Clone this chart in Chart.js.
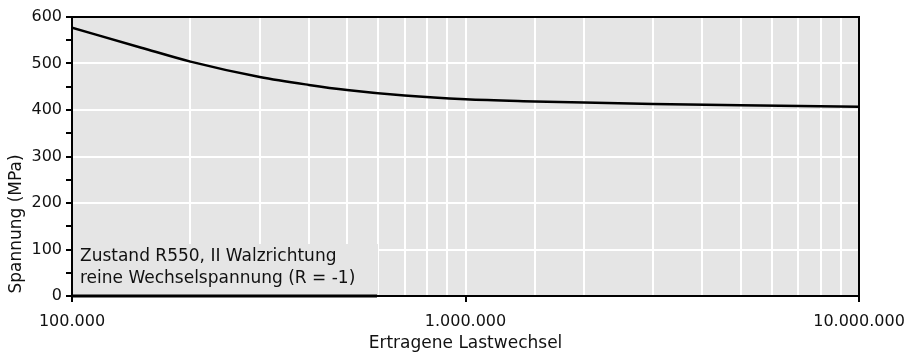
<!DOCTYPE html>
<html>
<head>
<meta charset="utf-8">
<script src="https://cdn.jsdelivr.net/npm/chart.js@4/dist/chart.umd.min.js"></script>
<style>
  html, body { margin: 0; padding: 0; background: #fff; }
  canvas { display: block; }
</style>
</head>
<body>
<canvas id="sn" width="909" height="356"></canvas>
<script>
// Woehler curve, values
const cycles = [100000, 150000, 200000, 300000, 400000, 500000, 700000, 1000000, 1500000, 2000000, 3000000, 5000000, 10000000];
const stress = [577, 534, 504, 471, 454, 443, 431, 423, 418.5, 416, 413, 410, 407];

const xTitle = 'Ertragene Lastwechsel';
const yTitle = 'Spannung (MPa)';
const noteLines = ['Zustand R550, II Walzrichtung', 'reine Wechselspannung (R = -1)'];

const tickFont = { family: 'DejaVu Sans', size: 16 };
const textFont = '17px "DejaVu Sans"';
const plotGray = '#e5e5e5';

function fmt(v) {
    return String(Math.round(v)).replace(/\B(?=(\d{3})+(?!\d))/g, '.');
}
function isDecade(v) {
    const l = Math.log10(v);
    return Math.abs(l - Math.round(l)) < 1e-9;
}

const decor = {
    id: 'decor',
    beforeDraw(chart) {
        const { ctx, chartArea: a } = chart;
        ctx.save();
        ctx.fillStyle = plotGray;
        ctx.fillRect(a.left, a.top, a.right - a.left, a.bottom - a.top);
        ctx.restore();
    },
    beforeDatasetsDraw(chart) {
        // the note box hides the grid behind it
        const { ctx, chartArea: a } = chart;
        ctx.save();
        ctx.fillStyle = plotGray;
        ctx.fillRect(a.left + 1, 244, 377 - a.left, a.bottom - 244 - 1);
        ctx.restore();
    },
    afterDraw(chart) {
        const { ctx, chartArea: a } = chart;
        ctx.save();
        ctx.strokeStyle = '#000';
        ctx.lineWidth = 2;
        ctx.beginPath();
        ctx.moveTo(a.left - 1, a.top);
        ctx.lineTo(a.right, a.top);
        ctx.lineTo(a.right, a.bottom);
        ctx.stroke();
        ctx.lineWidth = 3;
        ctx.beginPath();
        ctx.moveTo(a.left, a.bottom);
        ctx.lineTo(377, a.bottom);
        ctx.stroke();

        ctx.fillStyle = '#111';
        ctx.font = textFont;
        ctx.textAlign = 'left';
        ctx.textBaseline = 'alphabetic';
        ctx.fillText(noteLines[0], 80, 261);
        ctx.fillText(noteLines[1], 80, 283);

        ctx.textAlign = 'center';
        ctx.textBaseline = 'middle';
        ctx.fillText(xTitle, (a.left + a.right) / 2, 344);

        ctx.translate(17, 224);
        ctx.rotate(-Math.PI / 2);
        ctx.fillText(yTitle, 0, 0);
        ctx.restore();
    }
};

const ctx = document.getElementById('sn').getContext('2d');
const snChart = new Chart(ctx, {
    type: 'line',
    data: {
        datasets: [{
            data: cycles.map((n, i) => ({ x: n, y: stress[i] })),
            borderColor: '#000',
            borderWidth: 2.5,
            pointRadius: 0,
            fill: false,
            cubicInterpolationMode: 'monotone'
        }]
    },
    options: {
        responsive: false,
        animation: false,
        layout: { padding: { top: 17, right: 50, left: 0, bottom: 0 } },
        plugins: {
            legend: { display: false },
            tooltip: { enabled: false }
        },
        scales: {
            x: {
                type: 'logarithmic',
                min: 100000,
                max: 10000000,
                afterFit: (scale) => {
                    scale.height = 60;
                    scale.paddingLeft = 0;
                    scale.paddingRight = 0;
                },
                grid: {
                    color: (c) => c.tick && (!isDecade(c.tick.value) || c.tick.value === 1000000) ? '#fff' : 'rgba(0,0,0,0)',
                    lineWidth: 2,
                    tickColor: (c) => c.tick && isDecade(c.tick.value) ? '#000' : 'rgba(0,0,0,0)',
                    tickLength: 6,
                    tickWidth: 2
                },
                border: { display: true, color: '#000', width: 2 },
                ticks: {
                    autoSkip: false,
                    maxRotation: 0,
                    padding: 10,
                    color: '#111',
                    font: tickFont,
                    callback: (v) => isDecade(v) ? fmt(v) : ''
                }
            },
            y: {
                min: 0,
                max: 600,
                afterFit: (scale) => {
                    scale.width = 72;
                    scale.paddingTop = 0;
                    scale.paddingBottom = 0;
                },
                grid: {
                    color: (c) => c.tick && c.tick.value % 100 === 0 && c.tick.value > 0 && c.tick.value < 600 ? '#fff' : 'rgba(0,0,0,0)',
                    lineWidth: 2,
                    tickColor: '#000',
                    tickLength: 6,
                    tickWidth: 2
                },
                border: { display: true, color: '#000', width: 2 },
                ticks: {
                    stepSize: 50,
                    autoSkip: false,
                    padding: 4,
                    color: '#111',
                    font: tickFont,
                    callback: (v) => v % 100 === 0 ? String(v) : ''
                }
            }
        }
    },
    plugins: [decor]
});
</script>
</body>
</html>
